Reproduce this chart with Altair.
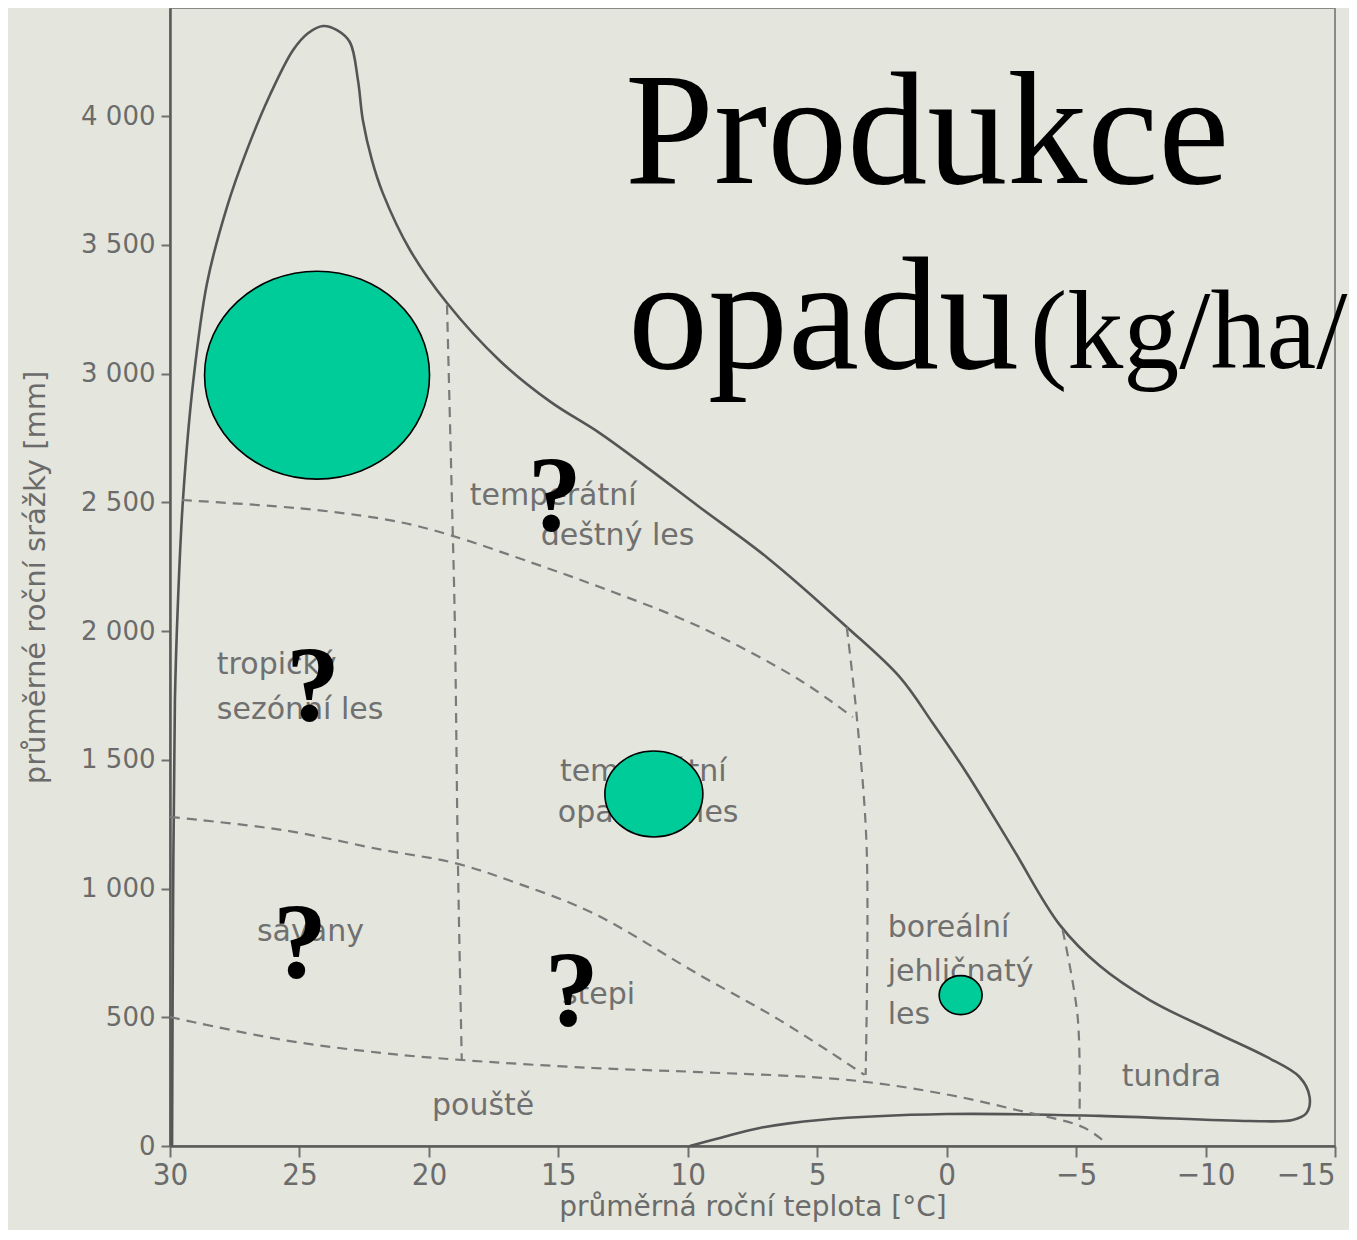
import altair as alt
import pandas as pd

# ---------------- data (temperature °C, precipitation mm) ----------------
# outer solid boundary of the biome space
outer_temp = [29.92, 29.88, 29.81, 29.69, 29.50, 29.11, 28.57, 27.80, 27.03, 26.14,
              25.25, 24.67, 24.09, 23.55, 23.05, 22.74, 22.55, 22.20, 21.78, 20.73,
              19.30, 17.26, 15.30, 13.40, 11.50, 9.54, 6.95, 3.86, 1.81, 0.54, -0.77, -2.55,
              -4.36, -5.91, -7.84, -10.42, -12.36, -13.63, -14.02, -13.90, -13.36, -11.70,
              -5.91, 0.0, 4.90, 7.22, 8.76, 9.92]
outer_prec = [0, 955, 1732, 2120, 2509, 2963, 3351, 3647, 3868, 4082,
              4256, 4322, 4350, 4334, 4287, 4140, 3984, 3829, 3701, 3480,
              3274, 3050, 2890, 2769, 2630, 2481, 2287, 2016, 1821, 1643, 1449, 1157,
              860, 700, 567, 439, 346, 268, 190, 128, 101, 97,
              117, 124, 101, 70, 31, 0]

# dashed boundaries between biomes
rain_temp = [29.54, 24.32, 21.12, 19.19, 15.98, 13.40, 9.54, 5.68, 3.63]
rain_prec = [2509, 2470, 2423, 2373, 2264, 2171, 2016, 1810, 1666]

v19_temp = [19.30, 19.11, 19.00, 18.88, 18.73]
v19_prec = [3266, 2509, 2043, 1111, 334]

v3_temp = [3.86, 3.47, 3.09, 3.13]
v3_prec = [2016, 1666, 1157, 276]

savanna_temp = [30.0, 25.64, 21.78, 19.00, 16.60, 13.67, 9.54, 6.45, 3.17]
savanna_prec = [1278, 1227, 1150, 1099, 1021, 905, 664, 489, 276]

desert_temp = [30.0, 25.64, 21.78, 18.73, 13.67, 9.54, 3.75, -0.12, -2.70, -5.25, -6.02]
desert_prec = [501, 412, 361, 334, 303, 287, 256, 198, 140, 74, 23]

vm5_temp = [-4.48, -5.06, -5.13]
vm5_prec = [839, 501, 101]

# biome labels (left edge, text middle)
label_text = ["tropický", "sezónní les", "temperátní", "deštný les", "temperátní",
              "opadavý les", "savany", "stepi", "pouště", "boreální", "jehličnatý",
              "les", "tundra"]
label_temp = [28.19, 28.19, 18.42, 15.68, 14.94, 15.02, 26.64, 14.86, 19.88, 2.28, 2.28, 2.28, -6.76]
label_prec = [1868, 1693, 2524, 2369, 1452, 1293, 831, 586, 155, 847, 676, 509, 268]

# litterfall bubbles (relative bubble area)
bubble_biome = ["tropický deštný les", "temperátní opadavý les", "boreální jehličnatý les"]
bubble_temp = [24.32, 11.31, -0.54]
bubble_prec = [2994, 1367, 586]
bubble_rel = [27.4, 5.2, 1.0]

# question marks (unknown litterfall)
q_temp = [15.14, 24.48, 24.98, 14.48]
q_prec = [2392, 1654, 656, 470]

# ---------------- tables ----------------
outer_df = pd.DataFrame({"t": outer_temp, "p": outer_prec, "o": range(len(outer_temp))})

dash_parts = []
for name, tt, pp in [("rain", rain_temp, rain_prec), ("v19", v19_temp, v19_prec),
                     ("v3", v3_temp, v3_prec), ("sav", savanna_temp, savanna_prec),
                     ("des", desert_temp, desert_prec), ("vm5", vm5_temp, vm5_prec)]:
    dash_parts.append(pd.DataFrame({"seg": name, "t": tt, "p": pp, "o": range(len(tt))}))
dash_df = pd.concat(dash_parts, ignore_index=True)

label_df = pd.DataFrame({"txt": label_text, "t": label_temp, "p": label_prec})
bubble_df = pd.DataFrame({"b": bubble_biome, "t": bubble_temp, "p": bubble_prec, "v": bubble_rel})
q_df = pd.DataFrame({"q": ["?"] * len(q_temp), "t": q_temp, "p": q_prec})

W, H = 1165, 1138
GRAY = "#6b6b6b"

xscale = alt.Scale(domain=[30, -15], nice=False, zero=False)
yscale = alt.Scale(domain=[0, 4420], nice=False, zero=False)

xaxis = alt.Axis(values=[30, 25, 20, 15, 10, 5, 0, -5, -10, -15],
                 title="průměrná roční teplota [°C]", grid=False,
                 labelFont="DejaVu Sans Condensed", labelFontSize=31, labelColor=GRAY,
                 labelPadding=3, labelFlush=False,
                 labelAlign={"condition": {"test": "datum.value === -15", "value": "right"},
                             "value": "center"},
                 tickColor="#707070", tickSize=11, tickWidth=2,
                 domainColor="#5a5a5a", domainWidth=2.5,
                 titleFont="DejaVu Sans", titleFontSize=28, titleFontWeight="normal",
                 titleColor=GRAY, titlePadding=3)
yaxis = alt.Axis(values=[0, 500, 1000, 1500, 2000, 2500, 3000, 3500, 4000],
                 labelExpr="replace(format(datum.value, ','), ',', ' ')",
                 title="průměrné roční srážky [mm]", grid=False,
                 labelFont="DejaVu Sans", labelFontSize=26, labelColor=GRAY,
                 labelPadding=6,
                 tickColor="#707070", tickSize=9, tickWidth=2,
                 domainColor="#5a5a5a", domainWidth=2.5,
                 titleFont="DejaVu Sans", titleFontSize=29, titleFontWeight="normal",
                 titleColor=GRAY, titlePadding=30)

outer = alt.Chart(outer_df).mark_line(
    color="#555555", strokeWidth=2.6, interpolate="catmull-rom"
).encode(
    x=alt.X("t:Q", scale=xscale, axis=xaxis),
    y=alt.Y("p:Q", scale=yscale, axis=yaxis),
    order="o:Q",
)

dashes = alt.Chart(dash_df).mark_line(
    color="#7a7a7a", strokeWidth=2.2, strokeDash=[10, 7], interpolate="catmull-rom"
).encode(
    x=alt.X("t:Q", scale=xscale),
    y=alt.Y("p:Q", scale=yscale),
    detail="seg:N",
    order="o:Q",
)

labels = alt.Chart(label_df).mark_text(
    align="left", baseline="middle", font="DejaVu Sans", fontSize=30, color="#707070"
).encode(
    x=alt.X("t:Q", scale=xscale),
    y=alt.Y("p:Q", scale=yscale),
    text="txt:N",
)

ell = lambda r: f"M -1 0 A 1 {r} 0 1 1 1 0 A 1 {r} 0 1 1 -1 0 Z"
bubbles = alt.Chart(bubble_df).mark_point(
    filled=True, fill="#00CC99", stroke="#000000", strokeWidth=1.6, opacity=1
).encode(
    x=alt.X("t:Q", scale=xscale),
    y=alt.Y("p:Q", scale=yscale),
    size=alt.Size("v:Q", scale=alt.Scale(domain=[0, 27.4], range=[0, 50625], zero=True), legend=None),
    shape=alt.Shape("b:N", scale=alt.Scale(domain=bubble_biome,
                                           range=[ell(0.924), ell(0.878), ell(0.907)]),
                    legend=None),
)

qmarks = alt.Chart(q_df).mark_text(
    align="center", baseline="alphabetic", font="Liberation Serif", fontWeight="bold",
    fontSize=108, color="#000000"
).encode(
    x=alt.X("t:Q", scale=xscale),
    y=alt.Y("p:Q", scale=yscale),
    text="q:N",
)

def title_text(txt, px, py, size):
    return alt.Chart(pd.DataFrame({"s": [txt]})).mark_text(
        align="left", baseline="alphabetic", font="Liberation Serif",
        fontSize=size, color="#000000"
    ).encode(x=alt.value(px), y=alt.value(py), text="s:N")

t1 = title_text("Produkce", 455, 175, 160)
t2 = title_text("opadu", 458, 360, 160)
t3 = title_text("(kg/ha/", 860, 360, 112)

chart = alt.layer(outer, dashes, labels, bubbles, qmarks, t1, t2, t3).properties(
    width=W, height=H,
    autosize=alt.AutoSizeParams(type="none"),
    padding={"left": 162, "top": 0, "right": 14, "bottom": 84},
    background="#e4e6dd",
).configure_view(stroke="#8a8a86", strokeWidth=2)

chart.save("out.html", embed_options={"renderer": "svg", "actions": False})
